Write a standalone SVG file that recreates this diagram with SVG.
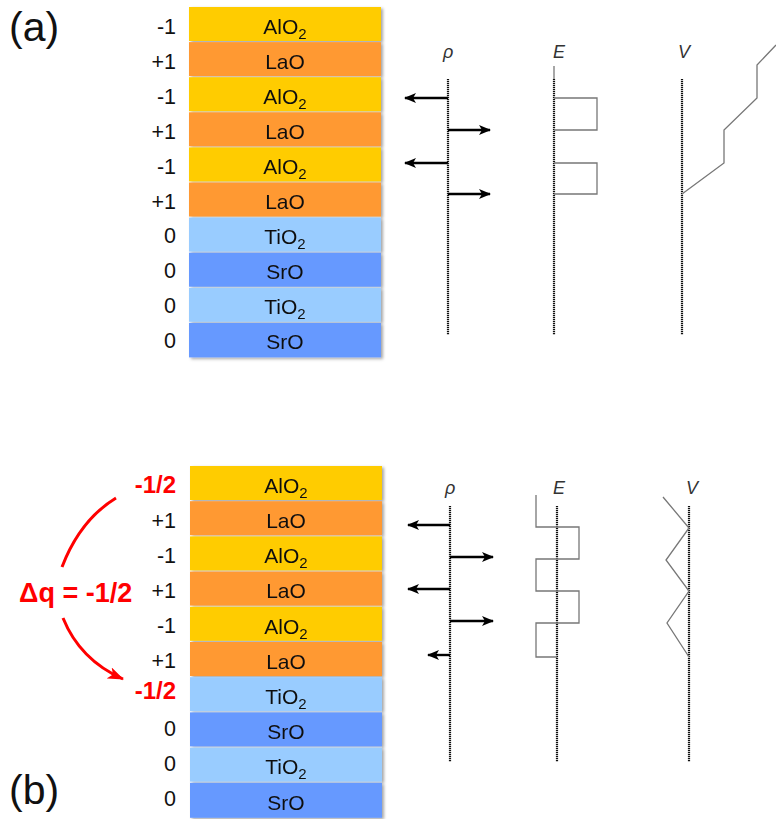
<svg xmlns="http://www.w3.org/2000/svg" width="776" height="819" viewBox="0 0 776 819">
<style>
.lt{font-family:"Liberation Sans",Arial,sans-serif;font-size:21px;fill:#111;text-anchor:middle}
.sub{font-size:15px}
.ch{font-family:"Liberation Sans",Arial,sans-serif;font-size:21.5px;fill:#111;text-anchor:end}
.red{font-family:"Liberation Sans",Arial,sans-serif;font-weight:bold;fill:#FF0000}
.pl{font-family:"Liberation Sans",Arial,sans-serif;font-size:18px;font-style:italic;fill:#333}
.big{font-family:"Liberation Sans",Arial,sans-serif;font-size:41px;fill:#111}
.alo{fill:#FFCC00}.lao{fill:#FF9933}.tio{fill:#99CCFF}.sro{fill:#6699FF}
.axis{stroke:#111;stroke-width:2.2;stroke-dasharray:1.2 0.8;fill:none}
.curve{stroke:#777;stroke-width:1.3;fill:none}
.arr{stroke:#000;stroke-width:2.4;fill:none;marker-end:url(#ah)}
</style>
<defs>
<marker id="ah" viewBox="0 0 12 10" refX="11" refY="5" markerWidth="12" markerHeight="10" markerUnits="userSpaceOnUse" orient="auto">
<path d="M0,0 L12,5 L0,10 L3,5 z" fill="#000"/>
</marker>
<marker id="rh" viewBox="0 0 16 12" refX="15" refY="6" markerWidth="16" markerHeight="12" markerUnits="userSpaceOnUse" orient="auto">
<path d="M0,0 L16,6 L0,12 L4,6 z" fill="#FF0000"/>
</marker>
<filter id="sh" x="-5%" y="-20%" width="115%" height="150%">
<feDropShadow dx="2" dy="1.5" stdDeviation="1.5" flood-color="#000" flood-opacity="0.35"/>
</filter>
</defs>
<rect width="776" height="819" fill="#fff"/>

<text class="big" x="9" y="41">(a)</text>
<text class="big" x="9" y="804">(b)</text>

<!-- (a) layer stack -->
<g id="stack-a" filter="url(#sh)">
<g id="a-l1"><rect class="alo" x="189" y="7" width="192" height="34"/><text class="lt" x="285" y="34">AlO<tspan class="sub" dy="5">2</tspan></text></g>
<g id="a-l2"><rect class="lao" x="189" y="42.1" width="192" height="34"/><text class="lt" x="285" y="69">LaO</text></g>
<g id="a-l3"><rect class="alo" x="189" y="77.2" width="192" height="34"/><text class="lt" x="285" y="104">AlO<tspan class="sub" dy="5">2</tspan></text></g>
<g id="a-l4"><rect class="lao" x="189" y="112.3" width="192" height="34"/><text class="lt" x="285" y="139">LaO</text></g>
<g id="a-l5"><rect class="alo" x="189" y="147.4" width="192" height="34"/><text class="lt" x="285" y="174">AlO<tspan class="sub" dy="5">2</tspan></text></g>
<g id="a-l6"><rect class="lao" x="189" y="182.5" width="192" height="34"/><text class="lt" x="285" y="209">LaO</text></g>
<g id="a-l7"><rect class="tio" x="189" y="217.6" width="192" height="34"/><text class="lt" x="285" y="244">TiO<tspan class="sub" dy="5">2</tspan></text></g>
<g id="a-l8"><rect class="sro" x="189" y="252.7" width="192" height="34"/><text class="lt" x="285" y="279">SrO</text></g>
<g id="a-l9"><rect class="tio" x="189" y="287.8" width="192" height="34"/><text class="lt" x="285" y="314">TiO<tspan class="sub" dy="5">2</tspan></text></g>
<g id="a-l10"><rect class="sro" x="189" y="322.9" width="192" height="34.5"/><text class="lt" x="285" y="349">SrO</text></g>
</g>
<g id="charges-a">
<text class="ch" x="176" y="34">-1</text>
<text class="ch" x="176" y="69">+1</text>
<text class="ch" x="176" y="104">-1</text>
<text class="ch" x="176" y="139">+1</text>
<text class="ch" x="176" y="174">-1</text>
<text class="ch" x="176" y="209">+1</text>
<text class="ch" x="176" y="243">0</text>
<text class="ch" x="176" y="278">0</text>
<text class="ch" x="176" y="313">0</text>
<text class="ch" x="176" y="348">0</text>
</g>

<!-- (a) plots -->
<g id="plots-a">
<text class="pl" x="443" y="58">ρ</text>
<text class="pl" x="553" y="58">E</text>
<text class="pl" x="678" y="58">V</text>
<line class="axis" x1="448" y1="79" x2="448" y2="335"/>
<line class="axis" x1="554" y1="79" x2="554" y2="335"/>
<line class="axis" x1="682" y1="79" x2="682" y2="335"/>
<line x1="554" y1="66" x2="554" y2="79" stroke="#777" stroke-width="1.3"/>
<polyline class="curve" points="554,98 597,98 597,130 554,130"/>
<polyline class="curve" points="554,163 597,163 597,194 554,194"/>
<polyline class="curve" points="682,194 724,163 724,130 757,98 757,65 776,45"/>
</g>

<!-- (b) layer stack -->
<g id="stack-b" filter="url(#sh)">
<g id="b-l1"><rect class="alo" x="190" y="466" width="192" height="34"/><text class="lt" x="286" y="493">AlO<tspan class="sub" dy="5">2</tspan></text></g>
<g id="b-l2"><rect class="lao" x="190" y="501.2" width="192" height="34"/><text class="lt" x="286" y="528">LaO</text></g>
<g id="b-l3"><rect class="alo" x="190" y="536.4" width="192" height="34"/><text class="lt" x="286" y="563">AlO<tspan class="sub" dy="5">2</tspan></text></g>
<g id="b-l4"><rect class="lao" x="190" y="571.6" width="192" height="34"/><text class="lt" x="286" y="598">LaO</text></g>
<g id="b-l5"><rect class="alo" x="190" y="606.8" width="192" height="34"/><text class="lt" x="286" y="634">AlO<tspan class="sub" dy="5">2</tspan></text></g>
<g id="b-l6"><rect class="lao" x="190" y="642" width="192" height="34"/><text class="lt" x="286" y="669">LaO</text></g>
<g id="b-l7"><rect class="tio" x="190" y="677.2" width="192" height="34"/><text class="lt" x="286" y="704">TiO<tspan class="sub" dy="5">2</tspan></text></g>
<g id="b-l8"><rect class="sro" x="190" y="712.4" width="192" height="34"/><text class="lt" x="286" y="739">SrO</text></g>
<g id="b-l9"><rect class="tio" x="190" y="747.6" width="192" height="34"/><text class="lt" x="286" y="774">TiO<tspan class="sub" dy="5">2</tspan></text></g>
<g id="b-l10"><rect class="sro" x="190" y="782.8" width="192" height="35"/><text class="lt" x="286" y="810">SrO</text></g>
</g>
<g id="charges-b">
<text class="red" x="176" y="493" text-anchor="end" font-size="24">-1/2</text>
<text class="ch" x="176" y="528">+1</text>
<text class="ch" x="176" y="563">-1</text>
<text class="ch" x="176" y="598">+1</text>
<text class="ch" x="176" y="633">-1</text>
<text class="ch" x="176" y="668">+1</text>
<text class="red" x="176" y="699" text-anchor="end" font-size="24">-1/2</text>
<text class="ch" x="176" y="736">0</text>
<text class="ch" x="176" y="771">0</text>
<text class="ch" x="176" y="806">0</text>
</g>
<text id="dq" class="red" x="19" y="602" font-size="27">Δq = -1/2</text>

<!-- (b) plots -->
<g id="plots-b">
<text class="pl" x="445" y="494">ρ</text>
<text class="pl" x="553" y="494">E</text>
<text class="pl" x="686" y="494">V</text>
<line class="axis" x1="450" y1="506" x2="450" y2="762"/>
<line class="axis" x1="557" y1="506" x2="557" y2="762"/>
<line class="axis" x1="689" y1="506" x2="689" y2="762"/>
<polyline class="curve" points="536,495 536,527 579,527 579,559 536,559 536,591 579,591 579,623 536,623 536,657 557,657"/>
<polyline class="curve" points="663,497 689,528 666,560 689,591 667,623 689,657"/>
</g>

<g id="connectors">
<line class="arr" x1="448" y1="98" x2="405" y2="98"/>
<line class="arr" x1="448" y1="130" x2="490" y2="130"/>
<line class="arr" x1="448" y1="163" x2="405" y2="163"/>
<line class="arr" x1="448" y1="194" x2="490" y2="194"/>
<line class="arr" x1="450" y1="525" x2="408" y2="525"/>
<line class="arr" x1="450" y1="557" x2="493" y2="557"/>
<line class="arr" x1="450" y1="589" x2="408" y2="589"/>
<line class="arr" x1="450" y1="621" x2="493" y2="621"/>
<line class="arr" x1="450" y1="655" x2="428" y2="655"/>
<path d="M62,567 Q80,520 116,498" stroke="#FF0000" stroke-width="3" fill="none"/>
<path d="M63,618 Q80,660 123,679" stroke="#FF0000" stroke-width="3" fill="none" marker-end="url(#rh)"/>
</g>
</svg>
